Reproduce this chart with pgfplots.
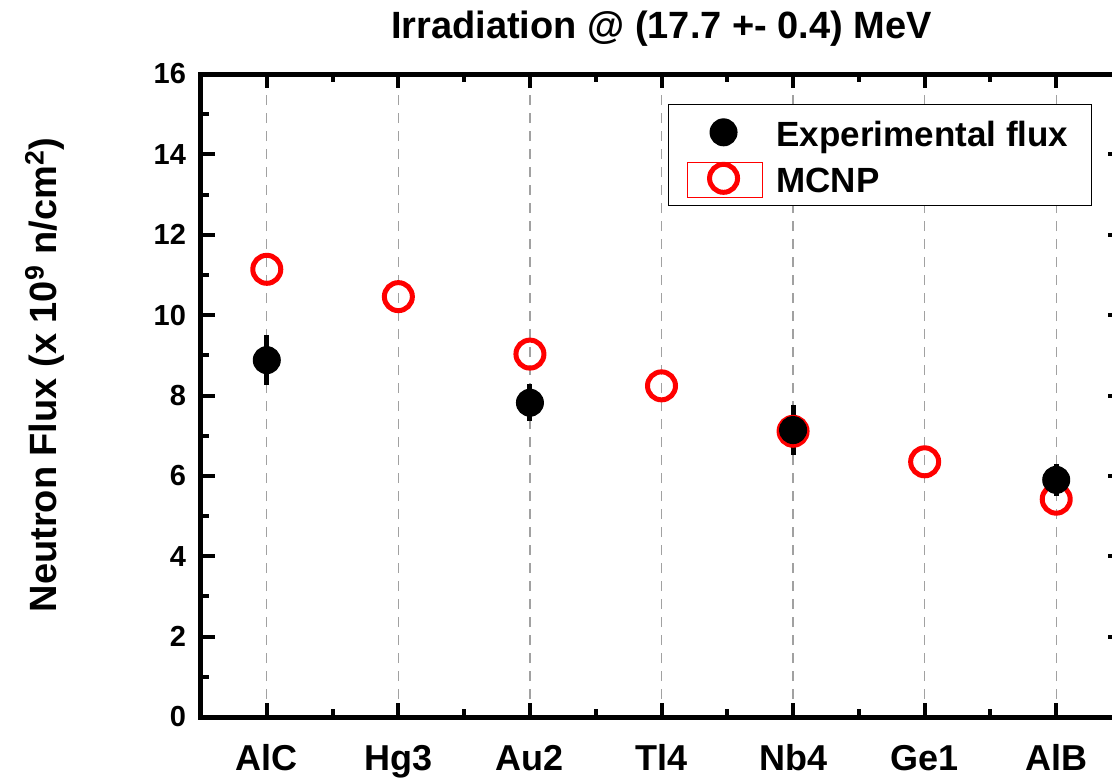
\documentclass[border=0pt]{standalone}
\usepackage{fontspec}
\setmainfont{Liberation Sans}
\usepackage{pgfplots}
\usepackage{pgfplotstable}
\pgfplotsset{compat=1.18}
\pgfplotsset{
  mcnplegend/.style={legend image code/.code={%
    \path[draw=none, fill=none] (0pt,-2pt) rectangle (42.5pt,2pt);
    \draw[overlay, red, line width=0.5pt, fill=none] (0pt,-9.5pt) rectangle (37.5pt,8pt);
    \draw[overlay, ##1] plot coordinates {(18pt,0pt)};}},
  explegend/.style={legend image code/.code={%
    \path[draw=none, fill=none] (0pt,-2pt) rectangle (42.5pt,2pt);
    \draw[overlay, ##1] plot coordinates {(18pt,0pt)};}},
}
\pgfplotstableread{
x y
0 11.14
1 10.46
2 9.03
3 8.24
4 7.11
5 6.35
6 5.42
}\mcnp
\pgfplotstableread{
x y err
0 8.88 0.62
2 7.82 0.46
4 7.14 0.63
6 5.90 0.40
}\expflux
\begin{document}
\begin{tikzpicture}
\begin{axis}[
  scale only axis, width=460.5pt, height=321.5pt,
  xmin=-0.5, xmax=6.5, ymin=0, ymax=16,
  xtick={0,1,2,3,4,5,6},
  xticklabels={AlC,Hg3,Au2,Tl4,Nb4,Ge1,AlB},
  minor x tick num=1,
  ytick={0,2,4,6,8,10,12,14,16}, minor y tick num=1,
  axis line style={line width=2.5pt},
  every tick/.style={black, line width=2pt},
  major tick length=7pt, minor tick length=4pt,
  tick align=inside, tick pos=both,
  xmajorgrids,
  major grid style={color=black!37, line width=0.6pt, dash pattern=on 5pt off 4pt},
  /pgf/number format/assume math mode=true,
  yticklabel style={font=\fontsize{14.5}{17}\selectfont\bfseries, xshift=-4pt},
  xticklabel style={font=\fontsize{18}{21}\selectfont\bfseries, anchor=base, yshift=-26.5pt},
  title={Irradiation @ (17.7 +- 0.4) MeV},
  title style={at={(axis description cs:0.5,1)}, anchor=base, yshift=12pt, font=\fontsize{19}{22}\selectfont\bfseries},
  ylabel={Neutron Flux (x 10\textsuperscript{9} n/cm\textsuperscript{2})},
  ylabel style={at={(axis description cs:-0.170,0.532)}, anchor=center, font=\fontsize{19}{22}\selectfont\bfseries},
  legend style={at={(axis description cs:0.507,0.953)}, anchor=north west,
    draw=black, line width=0.6pt, font=\fontsize{17.5}{20}\selectfont\bfseries,
    inner xsep=9.5pt, inner ysep=4.75pt, row sep=5pt,
    nodes={inner ysep=2pt, inner xsep=2pt, text height=14pt, text depth=0pt}},
  legend cell align=left,
  reverse legend,
]
\addplot[only marks, mark=o, mark size=7pt, color=red, line width=2.5pt, mcnplegend]
  table[x=x, y=y] {\mcnp};
\addlegendentry{MCNP}
\addplot[only marks, mark=*, mark size=6.7pt, color=black, fill=black, line width=0.6pt, explegend,
  error bars/.cd, y dir=both, y explicit, error mark=none,
  error bar style={line width=2.5pt, black},
  ] table[x=x, y=y, y error=err] {\expflux};
\addlegendentry{Experimental flux}
\end{axis}
\pgfresetboundingbox
\useasboundingbox (-100.5pt,-30.5pt) rectangle (455.5pt,358.5pt);
\end{tikzpicture}
\end{document}
